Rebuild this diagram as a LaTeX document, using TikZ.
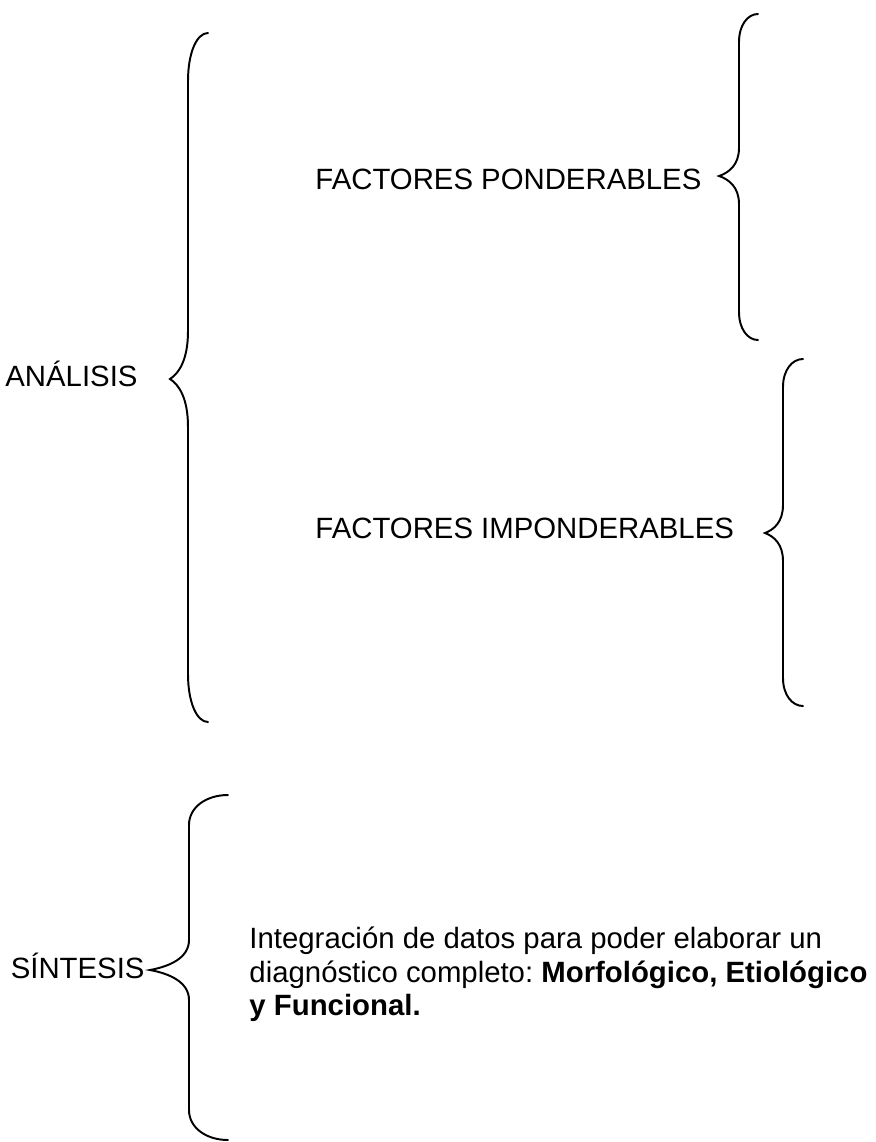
\documentclass[tikz,border=0pt]{standalone}
\usepackage{fontspec}
\setmainfont{Liberation Sans}
\usetikzlibrary{positioning}
\frenchspacing

% brace: #1 x ends, #2 x stem, #3 x tip, #4 y top, #5 y tip, #6 y bottom, #7 corner
\newcommand{\llave}[7]{%
  \draw[brace line] (#1,#4)
    .. controls ({#2+0.45*(#1-#2)},#4) and (#2,{#4+0.4*#7}) .. (#2,{#4+#7})
    -- (#2,{#5-#7})
    .. controls (#2,{#5-0.4*#7}) and ({#3+0.5*(#2-#3)},{#5-0.12*#7}) .. (#3,#5)
    .. controls ({#3+0.5*(#2-#3)},{#5+0.12*#7}) and (#2,{#5+0.4*#7}) .. (#2,{#5+#7})
    -- (#2,{#6-#7})
    .. controls (#2,{#6-0.4*#7}) and ({#2+0.45*(#1-#2)},#6) .. (#1,#6);}

\begin{document}
\begin{tikzpicture}[
    x=0.409pt, y=-0.409pt,
    every node/.style={inner sep=0pt, font=\fontsize{12pt}{13.5pt}\selectfont},
    label text/.style={anchor=base west},
    brace line/.style={line width=0.8pt, line cap=round}
]
\useasboundingbox (0,0) rectangle (875,1142);

% Labels
\node[anchor=base east] (analisis) at (138,386) {ANÁLISIS};
\node[label text] (ponderables) at (315,189) {FACTORES PONDERABLES};
\node[label text] (imponderables) at (315,538) {FACTORES IMPONDERABLES};
\node[anchor=base east] (sintesis) at (145,978) {SÍNTESIS};
\node[label text, align=left] (integracion) at (249,1015) {Integración de datos para poder elaborar un\\
  diagnóstico completo: \textbf{Morfológico, Etiológico}\\
  \textbf{y Funcional.}};

% Braces
\llave{208}{188}{170}{33}{379}{722}{48}
\llave{758}{739}{719}{14}{176}{340}{28}
\llave{803}{783}{765}{359}{533}{706}{28}
\llave{228}{189}{150}{795}{970}{1140}{30}

\end{tikzpicture}
\end{document}
